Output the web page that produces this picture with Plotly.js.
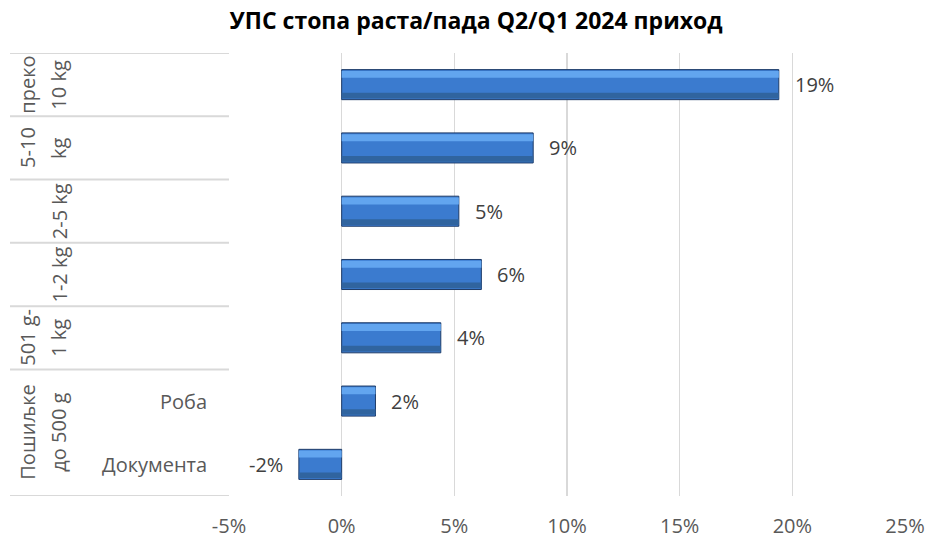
<!DOCTYPE html>
<html>
<head>
<meta charset="utf-8">
<script src="https://cdn.plot.ly/plotly-3.0.1.min.js"></script>
<style>html,body{margin:0;padding:0;background:#fff;}#chart{width:928px;height:539px;}</style>
</head>
<body>
<div id="chart"></div>
<script>
// Categories from bottom to top
const categories = ['Документа', 'Роба', '501 g-1 kg', '1-2 kg', '2-5 kg', '5-10 kg', 'преко 10 kg'];
// Growth rate Q2/Q1 2024 (fraction)
const values = [-0.019, 0.015, 0.044, 0.062, 0.052, 0.085, 0.194];
// Inner labels (only for the "Пошиљке до 500 g" group)
const innerLabels = ['Документа', 'Роба'];
// Outer group labels: lines, center index
const groupLabels = [
  {lines: ['Пошиљке', 'до 500 g'], center: 0.5},
  {lines: ['501 g-', '1 kg'], center: 2},
  {lines: ['1-2 kg'], center: 3},
  {lines: ['2-5 kg'], center: 4},
  {lines: ['5-10', 'kg'], center: 5},
  {lines: ['преко', '10 kg'], center: 6}
];
const groupBoundaries = [-0.5, 1.5, 2.5, 3.5, 4.5, 5.5, 6.5];
const tickVals = [-0.05, 0, 0.05, 0.10, 0.15, 0.20, 0.25];
const tickText = ['-5%', '0%', '5%', '10%', '15%', '20%', '25%'];

const FONT = 'Open Sans, Noto Sans, sans-serif';
const W = 0.475;

const main = {
  type: 'bar', orientation: 'h', y: categories, x: values,
  width: W, offset: -W/2,
  marker: {color: '#3b7bcf', line: {color: '#1f3c68', width: 1}},
  hoverinfo: 'skip', showlegend: false
};
const topHi = {
  type: 'bar', orientation: 'h', y: categories, x: values,
  width: 0.11, offset: W/2 - 0.13,
  marker: {color: '#62a5ef', line: {width: 0}},
  hoverinfo: 'skip', showlegend: false
};
const bottomSh = {
  type: 'bar', orientation: 'h', y: categories, x: values,
  width: 0.09, offset: -W/2 + 0.02,
  marker: {color: '#30649f', line: {width: 0}},
  hoverinfo: 'skip', showlegend: false
};

const annotations = [];
values.forEach((v, i) => {
  annotations.push({
    x: v, y: i, xref: 'x', yref: 'y',
    text: Math.round(v * 100) + '%',
    showarrow: false,
    xanchor: v >= 0 ? 'left' : 'right',
    xshift: v >= 0 ? 14 : -14,
    font: {family: FONT, size: 20, color: '#404040'}
  });
});
innerLabels.forEach((t, i) => {
  annotations.push({
    x: 0, xref: 'paper', y: i, yref: 'y', text: t, showarrow: false,
    xanchor: 'right', xshift: -20,
    font: {family: FONT, size: 20, color: '#595959'}
  });
});
groupLabels.forEach(g => {
  const xs = g.lines.length === 2 ? [-201, -170] : [-170];
  g.lines.forEach((ln, k) => {
    annotations.push({
      x: 0, xref: 'paper', y: g.center, yref: 'y', text: ln, showarrow: false,
      textangle: -90, xanchor: 'center', xshift: xs[k],
      font: {family: FONT, size: 20, color: '#595959'}
    });
  });
});

const shapes = groupBoundaries.map(b => ({
  type: 'line', xref: 'paper', xsizemode: 'pixel', xanchor: 0,
  x0: -219, x1: 0, yref: 'y', y0: b, y1: b,
  line: {color: '#d9d9d9', width: 2}
}));

const layout = {
  width: 928, height: 539,
  margin: {l: 229, r: 23, t: 53, b: 43},
  paper_bgcolor: '#ffffff', plot_bgcolor: '#ffffff',
  barmode: 'overlay',
  title: {text: '<b>УПС стопа раста/пада Q2/Q1 2024 приход</b>', x: 0.513, xanchor: 'center', y: 0.962, yanchor: 'middle',
          font: {family: FONT, size: 23, color: '#000000'}},
  xaxis: {
    range: [-0.05, 0.25], tickvals: tickVals, ticktext: tickText,
    showgrid: true, gridcolor: '#d9d9d9', gridwidth: 1.5,
    zeroline: false, showline: false, ticks: '', ticklabelstandoff: 16,
    tickfont: {family: FONT, size: 20, color: '#595959'}, fixedrange: true
  },
  yaxis: {
    type: 'category', categoryorder: 'array', categoryarray: categories,
    range: [-0.5, 6.5], showticklabels: false, showgrid: false, zeroline: false,
    showline: false, ticks: '', fixedrange: true
  },
  annotations: annotations,
  shapes: shapes
};

Plotly.newPlot('chart', [main, topHi, bottomSh], layout, {staticPlot: true, displayModeBar: false});
</script>
</body>
</html>
